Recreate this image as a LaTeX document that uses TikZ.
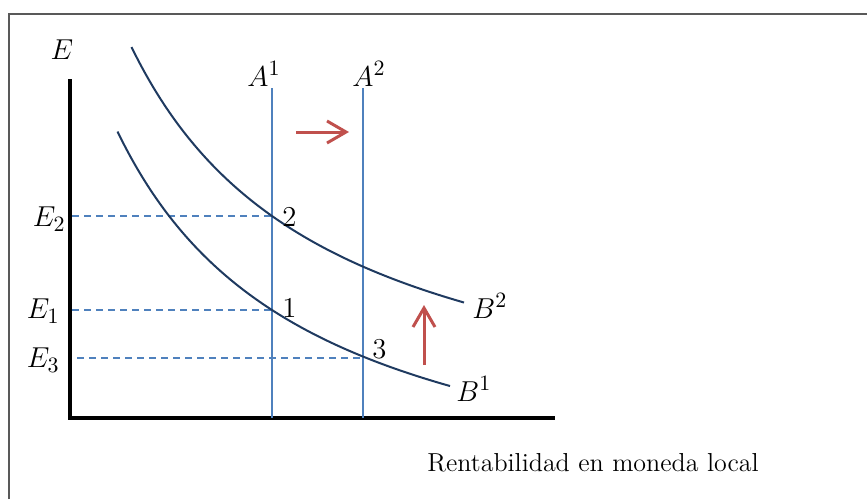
\documentclass[tikz,border=0pt]{standalone}
\usetikzlibrary{arrows.meta}
\definecolor{frameg}{HTML}{595959}
\definecolor{lineblue}{HTML}{4F81BD}
\definecolor{curvenavy}{HTML}{1F3A60}
\definecolor{arrred}{HTML}{C0504D}
\begin{document}
\begin{tikzpicture}[x=0.5pt,y=-0.5pt,
  lbl/.style={inner sep=0pt,font=\fontsize{15}{17}\selectfont},
  txt/.style={inner sep=0pt,font=\fontsize{13}{15}\selectfont},
  axisline/.style={line width=2pt,black},
  aline/.style={line width=1pt,lineblue},
  guide/.style={line width=0.9pt,lineblue,dash pattern=on 3.5pt off 2.5pt},
  bcurve/.style={line width=1pt,curvenavy},
  shiftarrow/.style={line width=1.5pt,arrred,-{Straight Barb[length=9.5pt,width=11pt,line width=1.5pt]}}]
\useasboundingbox (0,0) rectangle (867,499);
% outer frame (top and left edges visible)
\draw[frameg,line width=0.9pt] (9,499) -- (9,14) -- (867,14);
% axes
\coordinate (ytop) at (70,79);
\coordinate (orig) at (70,418);
\coordinate (xend) at (555,418);
\draw[axisline] (ytop) -- (orig) -- (xend);
% A lines
\coordinate (a1top) at (272,88);
\coordinate (a1bot) at (272,418);
\coordinate (a2top) at (363,88);
\coordinate (a2bot) at (363,418);
\draw[aline] (a1top) -- (a1bot);
\draw[aline] (a2top) -- (a2bot);
% intersection points
\coordinate (p2) at (272,216);
\coordinate (p1) at (272,310);
\coordinate (p3) at (363,358);
\coordinate (e2s) at (72,216);
\coordinate (e1s) at (72,310);
\coordinate (e3s) at (77,358);
\draw[guide] (e2s) -- (p2);
\draw[guide] (e1s) -- (p1);
\draw[guide] (e3s) -- (p3);
% curves (hyperbolas)
\draw[bcurve] plot[domain=131.5:464,samples=80,smooth] (\x,{455.5-813.3/((\x+67.6)/100)});
\draw[bcurve] plot[domain=117.5:450,samples=80,smooth] (\x,{535.2-786.8/((\x+77.4)/100)});
% arrows
\coordinate (hs) at (296,132);
\coordinate (he) at (349,132);
\draw[shiftarrow] (hs) -- (he);
\coordinate (vs) at (424,365);
\coordinate (ve) at (424,305);
\draw[shiftarrow] (vs) -- (ve);
% labels
\node[lbl] (lE) at (62,50) {$E$};
\node[lbl] (lA1) at (264,74) {$A^1$};
\node[lbl] (lA2) at (369,74) {$A^2$};
\node[lbl,anchor=east] (lE2) at (66,219) {$E_2$};
\node[lbl,anchor=east] (lE1) at (60,311) {$E_1$};
\node[lbl,anchor=east] (lE3) at (60,360) {$E_3$};
\node[lbl,anchor=west] (l2) at (282,217) {$2$};
\node[lbl,anchor=west] (l1) at (282,308) {$1$};
\node[lbl,anchor=west] (l3) at (372,349) {$3$};
\node[lbl,anchor=west] (lB2) at (472,306) {$B^2$};
\node[lbl,anchor=west] (lB1) at (456,389) {$B^1$};
\node[txt] (xl) at (593,463) {Rentabilidad en moneda local};
\end{tikzpicture}
\end{document}
